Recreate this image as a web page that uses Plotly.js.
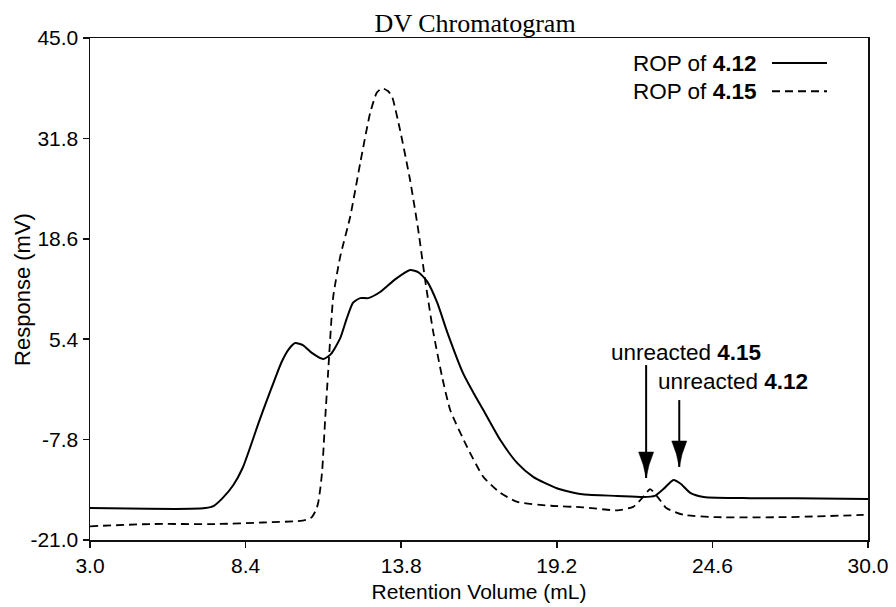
<!DOCTYPE html>
<html>
<head>
<meta charset="utf-8">
<script src="https://cdn.plot.ly/plotly-3.0.1.min.js"></script>
<style>
  html, body { margin: 0; padding: 0; background: #ffffff; }
  #chart { width: 896px; height: 607px; }
</style>
</head>
<body>
<div id="chart"></div>
<script>
// Retention volume (mL) and detector response (mV) for the two ROP products
const volume412 = [3.0, 5.0, 6.5, 7.0, 7.3, 7.6, 7.97, 8.3, 8.56, 8.85, 9.15, 9.4, 9.65, 9.9, 10.12, 10.4, 10.7, 11.09, 11.35, 11.68, 11.9, 12.13, 12.38, 12.65, 13.07, 13.6, 14.11, 14.4, 14.7, 15.05, 15.4, 15.95, 16.3, 16.65, 17.24, 17.83, 18.38, 19.2, 20.1, 21.3, 22.2, 22.6, 22.9, 23.25, 23.5, 23.83, 24.3, 25.9, 27.5, 30.0];
const response412 = [-16.8, -16.9, -16.9, -16.8, -16.5, -15.5, -13.8, -11.5, -8.8, -5.6, -2.5, 0.0, 2.4, 4.1, 4.9, 4.6, 3.6, 2.8, 3.4, 5.5, 8.0, 10.2, 10.8, 10.8, 11.6, 13.3, 14.5, 14.2, 13.0, 10.2, 6.3, 0.9, -1.6, -3.9, -7.85, -10.9, -12.7, -14.2, -15.0, -15.2, -15.35, -15.2, -14.3, -13.1, -13.6, -14.8, -15.35, -15.5, -15.5, -15.6];

const volume415 = [3.0, 5.1, 7.4, 9.0, 10.3, 10.55, 10.7, 10.85, 10.92, 11.0, 11.06, 11.16, 11.26, 11.44, 11.68, 12.03, 12.38, 12.72, 12.95, 13.14, 13.35, 13.49, 13.76, 14.11, 14.39, 14.63, 14.9, 15.22, 15.5, 16.09, 16.65, 17.24, 17.83, 19.0, 20.1, 21.3, 21.85, 22.16, 22.44, 22.73, 23.0, 23.6, 24.77, 27.05, 28.2, 29.85];
const response415 = [-19.2, -18.9, -18.9, -18.7, -18.5, -18.3, -18.0, -17.0, -16.1, -14.0, -11.8, -5.2, 0.8, 10.95, 16.2, 21.5, 28.6, 35.1, 37.8, 38.4, 38.0, 37.2, 32.9, 26.3, 19.8, 13.2, 6.6, 0.43, -3.9, -8.8, -12.7, -14.8, -16.0, -16.5, -16.7, -17.1, -16.65, -15.5, -14.3, -15.5, -16.8, -17.7, -18.0, -18.0, -17.9, -17.7];

const xTicks = [3.0, 8.4, 13.8, 19.2, 24.6, 30.0];
const yTicks = [-21.0, -7.8, 5.4, 18.6, 31.8, 45.0];

const seriesNames = ['ROP of <b>4.12</b>', 'ROP of <b>4.15</b>'];

// Arrow callouts marking the residual monomer peaks
const callouts = [
  { text: 'unreacted <b>4.15</b>', textX: 23.69, textY: 3.6, x: 22.3, top: 2.0, tip: -12.85 },
  { text: 'unreacted <b>4.12</b>', textX: 25.31, textY: -0.2, x: 23.45, top: -2.6, tip: -11.4 }
];

const FONT = 'Arial, "Liberation Sans", Helvetica, sans-serif';
const HEAD_LEN = 26;
const HEAD_HALF = 7.5;

const traces = [
  {
    x: volume412, y: response412, type: 'scatter', mode: 'lines',
    name: seriesNames[0],
    line: { color: '#000000', width: 2, shape: 'spline', smoothing: 0.6 },
    hoverinfo: 'skip'
  },
  {
    x: volume415, y: response415, type: 'scatter', mode: 'lines',
    name: seriesNames[1],
    line: { color: '#000000', width: 1.8, dash: '8px,5px', shape: 'spline', smoothing: 0.5 },
    hoverinfo: 'skip'
  }
];

const annotations = [];
const shapes = [];

// Hand-built legend: label on the left, line sample on the right
const legendRows = [0.950, 0.894];
const legendDash = ['solid', '8px,5px'];
seriesNames.forEach((name, i) => {
  annotations.push({
    xref: 'paper', yref: 'paper', x: 0.859, y: legendRows[i],
    xanchor: 'right', yanchor: 'middle', showarrow: false,
    text: name, font: { family: FONT, size: 22.5, color: '#000' }
  });
  shapes.push({
    type: 'line', xref: 'paper', yref: 'paper',
    x0: 0.8766, x1: 0.9473, y0: legendRows[i], y1: legendRows[i],
    line: { color: '#000', width: 2, dash: legendDash[i] }
  });
});

callouts.forEach(c => {
  annotations.push({
    xref: 'x', yref: 'y', x: c.textX, y: c.textY,
    xanchor: 'center', yanchor: 'middle', showarrow: false,
    text: c.text, font: { family: FONT, size: 22.5, color: '#000' }
  });
  // shaft
  shapes.push({
    type: 'line', xref: 'x', yref: 'y',
    x0: c.x, x1: c.x, y0: c.top, y1: c.tip,
    line: { color: '#000', width: 2 }
  });
  // arrowhead, sized in pixels and anchored at the tip
  shapes.push({
    type: 'path', xref: 'x', yref: 'y',
    xsizemode: 'pixel', ysizemode: 'pixel', xanchor: c.x, yanchor: c.tip,
    path: `M0,0 Q-2,${HEAD_LEN * 0.5} -${HEAD_HALF},${HEAD_LEN} L${HEAD_HALF},${HEAD_LEN} Q2,${HEAD_LEN * 0.5} 0,0 Z`,
    fillcolor: '#000', line: { color: '#000', width: 0.5 }
  });
});

// y-axis title placed by hand so it sits close to the tick labels
annotations.push({
  xref: 'paper', yref: 'paper', x: -0.0875, y: 0.5,
  xanchor: 'center', yanchor: 'middle', showarrow: false, textangle: -90,
  text: 'Response (mV)', font: { family: FONT, size: 22, color: '#000' }
});

const axisCommon = {
  showgrid: false, zeroline: false,
  showline: true, linecolor: '#111', linewidth: 1.5, mirror: true,
  ticks: 'outside', ticklen: 6, tickwidth: 1.5, tickcolor: '#111',
  tickfont: { family: FONT, size: 21, color: '#000' },
  tickmode: 'array'
};

const layout = {
  width: 896, height: 607,
  margin: { l: 90, r: 28, t: 38, b: 67 },
  paper_bgcolor: '#ffffff', plot_bgcolor: '#ffffff',
  showlegend: false,
  title: {
    text: 'DV Chromatogram',
    font: { family: '"Liberation Serif", "Times New Roman", serif', size: 26, color: '#000' },
    x: 0.495, xanchor: 'center', xref: 'paper',
    y: 0.963, yanchor: 'middle', yref: 'container'
  },
  xaxis: Object.assign({}, axisCommon, {
    range: [3, 30], tickvals: xTicks, ticktext: xTicks.map(v => v.toFixed(1)),
    title: { text: 'Retention Volume (mL)', font: { family: FONT, size: 21, color: '#000' }, standoff: 8 }
  }),
  yaxis: Object.assign({}, axisCommon, {
    range: [-21, 45], tickvals: yTicks, ticktext: yTicks.map(v => v.toFixed(1))
  }),
  annotations: annotations,
  shapes: shapes
};

Plotly.newPlot('chart', traces, layout, { displayModeBar: false, staticPlot: true });
</script>
</body>
</html>
